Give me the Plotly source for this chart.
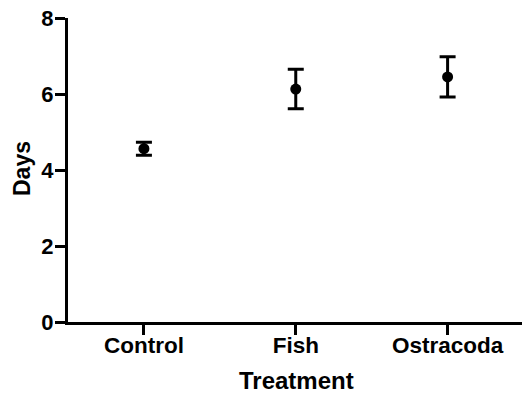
import plotly.graph_objects as go

categories = ["Control", "Fish", "Ostracoda"]
means = [4.56, 6.13, 6.45]
errors = [0.17, 0.52, 0.53]
y_ticks = [0, 2, 4, 6, 8]

fig = go.Figure()
fig.add_trace(go.Scatter(
    x=list(range(len(categories))),
    y=means,
    mode="markers",
    marker=dict(color="black", size=11),
    error_y=dict(type="data", array=errors, visible=True, color="black", thickness=3, width=8),
    showlegend=False,
))

font_family = "Liberation Sans, Arial, sans-serif"
fig.update_layout(
    width=522, height=393,
    margin=dict(l=68, r=0, t=18, b=71),
    plot_bgcolor="white", paper_bgcolor="white",
    font=dict(family=font_family, color="black"),
    annotations=[
        dict(text="<b>Treatment</b>", xref="paper", yref="paper", x=(296 - 68) / 454, y=-(380 - 322) / 304,
             xanchor="center", yanchor="middle", showarrow=False, font=dict(size=24, family=font_family, color="black")),
        dict(text="<b>Days</b>", xref="paper", yref="paper", x=-(68 - 22) / 454, y=(322 - 169) / 304,
             xanchor="center", yanchor="middle", textangle=-90, showarrow=False,
             font=dict(size=23, family=font_family, color="black")),
    ],
)
fig.update_xaxes(
    range=[-0.5, 2.49],
    tickvals=list(range(len(categories))),
    ticktext=["<b>%s</b>" % c for c in categories],
    tickfont=dict(size=22.5, family=font_family, color="black"),
    showline=True, linewidth=3, linecolor="black",
    ticks="outside", ticklen=10, tickwidth=3, tickcolor="black",
    ticklabelstandoff=-9,
    showgrid=False, zeroline=False, automargin=False,
)
fig.update_yaxes(
    range=[0, 8],
    tickvals=y_ticks,
    ticktext=["<b>%d</b>" % v for v in y_ticks],
    tickfont=dict(size=22, family=font_family, color="black"),
    showline=True, linewidth=3, linecolor="black",
    ticks="outside", ticklen=10, tickwidth=3, tickcolor="black",
    ticklabelstandoff=-3,
    showgrid=False, zeroline=False, automargin=False,
)

fig.write_html("out.html", config={"displayModeBar": False},
               post_script="document.body.style.margin='0';document.body.style.padding='0';")
